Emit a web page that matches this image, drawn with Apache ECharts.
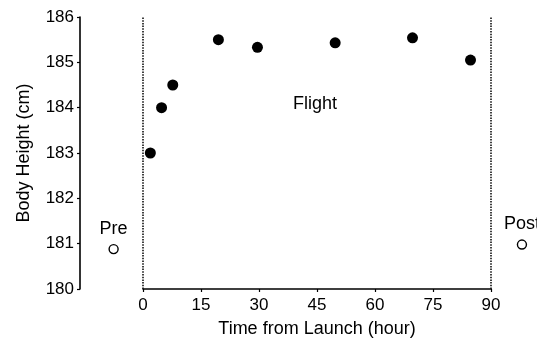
<!DOCTYPE html>
<html>
<head>
<meta charset="utf-8">
<script src="https://cdn.jsdelivr.net/npm/echarts@6/dist/echarts.min.js"></script>
<style>
  html, body { margin: 0; padding: 0; background: #fff; }
  #chart { width: 537px; height: 343px; }
</style>
</head>
<body>
<div id="chart"></div>
<script>
// In-flight body height measurements
const flightHours = [1.9, 4.8, 7.7, 19.5, 29.6, 49.7, 69.7, 84.7];
const flightHeights = [183.0, 184.0, 184.5, 185.5, 185.33, 185.43, 185.54, 185.05];

// Ground measurements before launch and after landing (placed beside the flight window)
const groundNames = ['Pre', 'Post'];
const groundHours = [-7.6, 98.0];
const groundHeights = [180.88, 180.98];

// Flight window boundaries and label
const windowBounds = [0, 90];
const flightLabel = { text: 'Flight', hour: 44.5, height: 184.08 };

const xTicks = { min: 0, max: 90, interval: 15 };
const yTicks = { min: 180, max: 186, interval: 1 };

const FONT = '"Liberation Sans", Arial, sans-serif';
const INK = '#000';

const chart = echarts.init(document.getElementById('chart'), null, { renderer: 'canvas' });

chart.setOption({
  animation: false,
  backgroundColor: '#fff',
  grid: { left: 143, right: 46, top: 17, bottom: 48, containLabel: false },
  xAxis: {
    type: 'value',
    min: xTicks.min, max: xTicks.max, interval: xTicks.interval,
    name: 'Time from Launch (hour)',
    nameLocation: 'middle',
    nameGap: 31,
    nameTextStyle: { fontFamily: FONT, fontSize: 18, color: INK },
    axisLine: { show: true, onZero: false, lineStyle: { color: INK, width: 1.6 } },
    axisTick: { show: true, length: 3, lineStyle: { color: INK, width: 1.2 } },
    axisLabel: { fontFamily: FONT, fontSize: 17, color: INK, margin: 8 },
    splitLine: { show: false }
  },
  yAxis: {
    type: 'value',
    min: yTicks.min, max: yTicks.max, interval: yTicks.interval,
    offset: 63,
    name: 'Body Height (cm)',
    nameLocation: 'middle',
    nameGap: 47,
    nameRotate: 90,
    nameTextStyle: { fontFamily: FONT, fontSize: 18, color: INK },
    axisLine: { show: true, onZero: false, lineStyle: { color: INK, width: 1.6 } },
    axisTick: { show: true, length: 3, lineStyle: { color: INK, width: 1.2 } },
    axisLabel: { fontFamily: FONT, fontSize: 17, color: INK, margin: 6 },
    splitLine: { show: false }
  },
  series: [
    {
      name: 'Flight',
      type: 'scatter',
      symbol: 'circle',
      symbolSize: 11,
      itemStyle: { color: '#000', opacity: 1 },
      data: flightHours.map((h, i) => [h, flightHeights[i]]),
      markLine: {
        silent: true,
        symbol: 'none',
        label: { show: false },
        lineStyle: { color: '#111', width: 1.6, type: [1.5, 1.2] },
        data: windowBounds.map(b => ({ xAxis: b }))
      }
    },
    {
      name: 'Ground',
      type: 'scatter',
      clip: false,
      symbol: 'circle',
      symbolSize: 9,
      itemStyle: { color: '#fff', borderColor: INK, borderWidth: 1.4, opacity: 1 },
      label: {
        show: true,
        position: 'top',
        distance: 6,
        fontFamily: FONT,
        fontSize: 18,
        color: INK,
        formatter: p => groundNames[p.dataIndex]
      },
      data: groundHours.map((h, i) => [h, groundHeights[i]])
    },
    {
      name: 'Window label',
      type: 'scatter',
      silent: true,
      symbolSize: 0,
      itemStyle: { opacity: 1 },
      label: {
        show: true,
        position: 'inside',
        fontFamily: FONT,
        fontSize: 18,
        color: INK,
        formatter: () => flightLabel.text
      },
      data: [[flightLabel.hour, flightLabel.height]]
    }
  ]
});
</script>
</body>
</html>
